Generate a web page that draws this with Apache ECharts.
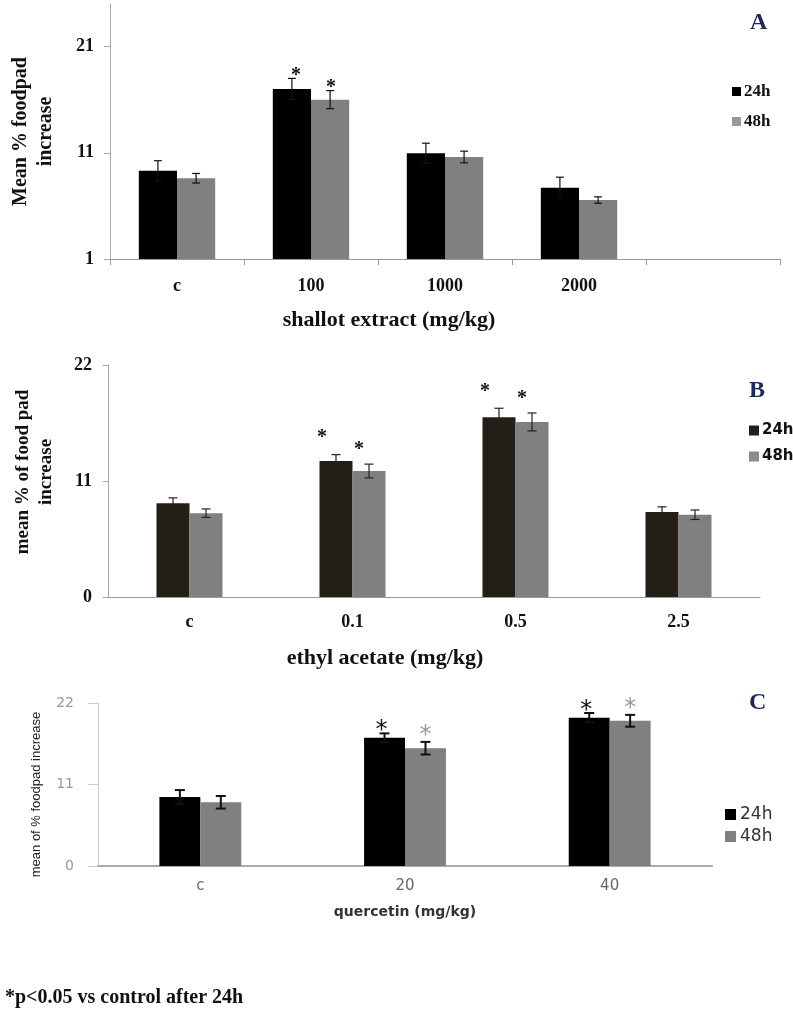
<!DOCTYPE html>
<html>
<head>
<meta charset="utf-8">
<script src="https://cdn.jsdelivr.net/npm/echarts@6/dist/echarts.min.js"></script>
<style>html,body{margin:0;padding:0;background:#fff}#c{width:793px;height:1014px}</style>
</head>
<body>
<div id="c"></div>
<script>
// ---- data ----
const catsA = ['c', '100', '1000', '2000', ''];
const a24 = [9.3, 17.0, 10.95, 7.7];
const a24err = [0.95, 1.0, 0.95, 1.0];
const a48 = [8.6, 16.0, 10.6, 6.55];
const a48err = [0.45, 0.85, 0.55, 0.3];
const a24sig = [0, 1, 0, 0];
const a48sig = [0, 1, 0, 0];
const yTicksA = [1, 11, 21];

const catsB = ['c', '0.1', '0.5', '2.5'];
const b24 = [8.9, 12.9, 17.05, 8.05];
const b24err = [0.5, 0.6, 0.85, 0.5];
const b48 = [7.95, 11.95, 16.6, 7.8];
const b48err = [0.4, 0.65, 0.85, 0.45];
const b24sig = [0, 1, 1, 0];
const b48sig = [0, 1, 1, 0];
const yTicksB = [0, 11, 22];

const catsC = ['c', '20', '40'];
const c24 = [9.3, 17.3, 20.0];
const c24err = [0.95, 0.6, 0.65];
const c48 = [8.6, 15.9, 19.6];
const c48err = [0.85, 0.85, 0.8];
const c24sig = [0, 1, 1];
const c48sig = [0, 1, 1];
const yTicksC = [0, 11, 22];

const seriesNames = ['24h', '48h'];

// ---- styles ----
const SERIF = '"Liberation Serif", "Times New Roman", serif';
const SANS = '"DejaVu Sans", Verdana, sans-serif';
const NAVY = '#1b2a5e';

function errSeries(name, grid, vals, errs, sigs, side, gap, opt) {
  return {
    type: 'custom', name: name + ' err', xAxisIndex: grid, yAxisIndex: grid, z: 5,
    silent: true,
    data: vals.map((v, i) => [i, v, errs[i], sigs[i]]),
    encode: { x: 0, y: 1 },
    renderItem: function (params, api) {
      const idx = api.value(0), val = api.value(1), err = api.value(2), sig = api.value(3);
      const band = api.size([1, 0])[0];
      const barW = band * (1 - gap) / 2;
      const cx = api.coord([idx, val])[0] + side * barW / 2;
      const yT = api.coord([idx, val + err])[1];
      const yB = api.coord([idx, val - err])[1];
      const hw = opt.cap / 2;
      const st = { stroke: opt.color, lineWidth: opt.lw };
      const ch = [
        { type: 'line', shape: { x1: cx, y1: yT, x2: cx, y2: yB }, style: st },
        { type: 'line', shape: { x1: cx - hw, y1: yT, x2: cx + hw, y2: yT }, style: st },
        { type: 'line', shape: { x1: cx - hw, y1: yB, x2: cx + hw, y2: yB }, style: st }
      ];
      if (sig) {
        ch.push({
          type: 'text',
          style: {
            text: '*', x: cx + opt.dx, y: yT - opt.dy + opt.fs * 0.28,
            align: 'center', verticalAlign: 'middle',
            font: opt.fw + ' ' + opt.fs + 'px ' + opt.ff, fill: opt.starColor
          }
        });
      }
      return { type: 'group', children: ch };
    }
  };
}

function bar(name, grid, vals, color, gap) {
  return {
    type: 'bar', name: name, xAxisIndex: grid, yAxisIndex: grid,
    data: vals, barGap: '0%', barCategoryGap: (gap * 100) + '%',
    itemStyle: { color: color }, silent: true
  };
}

const gapA = 0.43, gapB = 0.595, gapC = 0.6;

const option = {
  animation: false,
  backgroundColor: '#fff',
  title: [
    { text: 'A', left: 745, top: 6, textStyle: { fontFamily: SERIF, fontWeight: 'bold', fontSize: 24, color: NAVY } },
    { text: 'B', left: 744, top: 374, textStyle: { fontFamily: SERIF, fontWeight: 'bold', fontSize: 24, color: NAVY } },
    { text: 'C', left: 744, top: 686, textStyle: { fontFamily: SERIF, fontWeight: 'bold', fontSize: 24, color: NAVY } },
    { text: '*p<0.05 vs control after 24h', left: 0, top: 983, textStyle: { fontFamily: SERIF, fontWeight: 'bold', fontSize: 20, color: '#111' } }
  ],
  legend: [
    { left: 727, top: 78, orient: 'vertical', itemGap: 13, itemWidth: 9, itemHeight: 9, icon: 'rect', selectedMode: false,
      textStyle: { fontFamily: SERIF, fontWeight: 'bold', fontSize: 17, color: '#111', padding: [0, 0, 0, -2] },
      data: [{ name: '24h', itemStyle: { color: '#000' } }, { name: '48h', itemStyle: { color: '#999' } }] },
    { left: 744, top: 418, orient: 'vertical', itemGap: 11, itemWidth: 10, itemHeight: 10, icon: 'rect', selectedMode: false,
      textStyle: { fontFamily: SANS, fontWeight: 'bold', fontSize: 15, color: '#111', padding: [0, 0, 0, -2] },
      data: [{ name: '24h', itemStyle: { color: '#231f17' } }, { name: '48h', itemStyle: { color: '#8a8a8a' } }] },
    { left: 720, top: 801, orient: 'vertical', itemGap: 5, itemWidth: 11, itemHeight: 11, icon: 'rect', selectedMode: false,
      textStyle: { fontFamily: SANS, fontSize: 17, color: '#333', padding: [0, 0, 0, -1] },
      data: [{ name: '24h', itemStyle: { color: '#000' } }, { name: '48h', itemStyle: { color: '#808080' } }] }
  ],
  grid: [
    { left: 110, top: 4, width: 670, height: 255 },
    { left: 108, top: 365, width: 652, height: 232 },
    { left: 98, top: 703, width: 614, height: 163 }
  ],
  xAxis: [
    { type: 'category', gridIndex: 0, data: catsA, boundaryGap: true,
      axisLine: { lineStyle: { color: '#999', width: 1 } },
      axisTick: { show: true, inside: false, length: 6, lineStyle: { color: '#999' } },
      axisLabel: { margin: 18, fontFamily: SERIF, fontWeight: 'bold', fontSize: 18, color: '#111' },
      name: 'shallot extract (mg/kg)', nameLocation: 'middle', nameGap: 50,
      nameTextStyle: { fontFamily: SERIF, fontWeight: 'bold', fontSize: 22, color: '#111', padding: [0, 112, 0, 0] } },
    { type: 'category', gridIndex: 1, data: catsB, boundaryGap: true,
      axisLine: { lineStyle: { color: '#999', width: 1 } },
      axisTick: { show: false },
      axisLabel: { margin: 16, fontFamily: SERIF, fontWeight: 'bold', fontSize: 18, color: '#111' },
      name: 'ethyl acetate (mg/kg)', nameLocation: 'middle', nameGap: 50,
      nameTextStyle: { fontFamily: SERIF, fontWeight: 'bold', fontSize: 22, color: '#111', padding: [0, 98, 0, 0] } },
    { type: 'category', gridIndex: 2, data: catsC, boundaryGap: true,
      axisLine: { lineStyle: { color: '#aaa', width: 2 } },
      axisTick: { show: false },
      axisLabel: { margin: 13, fontFamily: SANS, fontSize: 15, color: '#666' },
      name: 'quercetin (mg/kg)', nameLocation: 'middle', nameGap: 39,
      nameTextStyle: { fontFamily: SANS, fontWeight: 'bold', fontSize: 14, color: '#333' } }
  ],
  yAxis: [
    { type: 'value', gridIndex: 0, min: 1, max: 25,
      axisLine: { show: true, lineStyle: { color: '#aaa' } },
      axisTick: { show: true, length: 6, lineStyle: { color: '#aaa' }, customValues: yTicksA },
      axisLabel: { margin: 16, fontFamily: SERIF, fontWeight: 'bold', fontSize: 18, color: '#111', customValues: yTicksA },
      splitLine: { show: false },
      name: 'Mean % foodpad\nincrease', nameLocation: 'middle', nameGap: 52,
      nameTextStyle: { fontFamily: SERIF, fontWeight: 'bold', fontSize: 20, lineHeight: 25, color: '#111' } },
    { type: 'value', gridIndex: 1, min: 0, max: 22, interval: 11,
      axisLine: { show: true, lineStyle: { color: '#aaa' } },
      axisTick: { show: true, length: 5, lineStyle: { color: '#aaa' }, customValues: yTicksB },
      axisLabel: { margin: 16, fontFamily: SERIF, fontWeight: 'bold', fontSize: 18, color: '#111', customValues: yTicksB },
      splitLine: { show: false },
      name: 'mean % of food pad\nincrease', nameLocation: 'middle', nameGap: 50,
      nameTextStyle: { fontFamily: SERIF, fontWeight: 'bold', fontSize: 19, lineHeight: 23, color: '#111', padding: [0, 0, 0, 18] } },
    { type: 'value', gridIndex: 2, min: 0, max: 22, interval: 11,
      axisLine: { show: true, lineStyle: { color: '#ccc' } },
      axisTick: { show: true, length: 10, lineStyle: { color: '#ccc' }, customValues: yTicksC },
      axisLabel: { margin: 24, fontFamily: SANS, fontSize: 14, color: '#999', customValues: yTicksC },
      splitLine: { show: false },
      name: 'mean of % foodpad increase', nameLocation: 'middle', nameGap: 55,
      nameTextStyle: { fontFamily: '"Liberation Sans Narrow", "Liberation Sans", Arial, sans-serif', fontSize: 13, color: '#222', padding: [0, 20, 0, 0] } }
  ],
  series: [
    bar(seriesNames[0], 0, a24, '#000', gapA),
    bar(seriesNames[1], 0, a48, '#808080', gapA),
    errSeries('A24', 0, a24, a24err, a24sig, -1, gapA, { cap: 8, lw: 1.2, color: '#111', dx: 4, dy: 8, fs: 20, fw: 'bold', ff: SERIF, starColor: '#111' }),
    errSeries('A48', 0, a48, a48err, a48sig, 1, gapA, { cap: 8, lw: 1.2, color: '#111', dx: 1, dy: 8, fs: 20, fw: 'bold', ff: SERIF, starColor: '#111' }),
    bar(seriesNames[0], 1, b24, '#231f17', gapB),
    bar(seriesNames[1], 1, b48, '#808080', gapB),
    errSeries('B24', 1, b24, b24err, b24sig, -1, gapB, { cap: 9, lw: 1.2, color: '#222', dx: -14, dy: 22, fs: 20, fw: 'bold', ff: SERIF, starColor: '#111' }),
    errSeries('B48', 1, b48, b48err, b48sig, 1, gapB, { cap: 9, lw: 1.2, color: '#222', dx: -10, dy: 20, fs: 20, fw: 'bold', ff: SERIF, starColor: '#111' }),
    bar(seriesNames[0], 2, c24, '#000', gapC),
    bar(seriesNames[1], 2, c48, '#808080', gapC),
    errSeries('C24', 2, c24, c24err, c24sig, -1, gapC, { cap: 10, lw: 2, color: '#111', dx: -3, dy: 9, fs: 24, fw: 'normal', ff: SANS, starColor: '#111' }),
    errSeries('C48', 2, c48, c48err, c48sig, 1, gapC, { cap: 10, lw: 2, color: '#111', dx: 0, dy: 13, fs: 24, fw: 'normal', ff: SANS, starColor: '#999' })
  ]
};

const chart = echarts.init(document.getElementById('c'), null, { renderer: 'canvas' });
chart.setOption(option);
</script>
</body>
</html>
